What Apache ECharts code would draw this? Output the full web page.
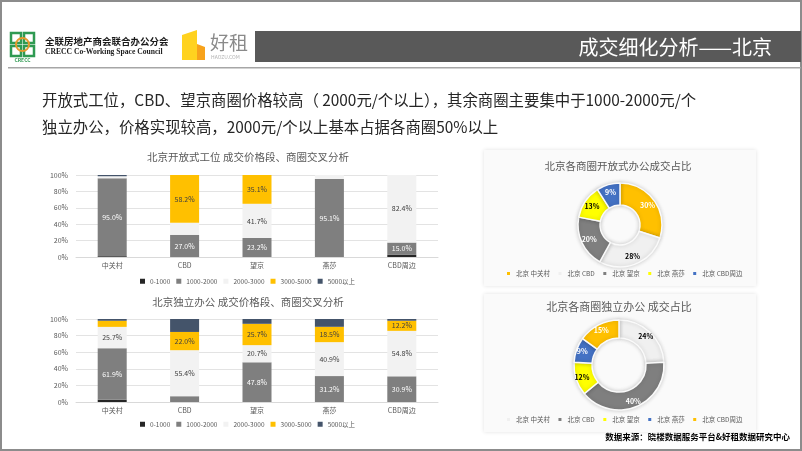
<!DOCTYPE html>
<html>
<head>
<meta charset="utf-8">
<script src="https://cdn.jsdelivr.net/npm/echarts@6/dist/echarts.min.js"></script>
<style>
html,body{margin:0;padding:0;background:#fff;}
#c{width:802px;height:451px;}
</style>
</head>
<body>
<div id="c"></div>
<script>
// ---- data ----
var categories = ['中关村', 'CBD', '望京', '燕莎', 'CBD周边'];
var priceBands = ['0-1000', '1000-2000', '2000-3000', '3000-5000', '5000以上'];
// 开放式工位 (percent)
var open0to1000   = [1.0, 0, 0, 0, 2.6];
var open1000to2000 = [95.0, 27.0, 23.2, 95.1, 15.0];
var open2000to3000 = [2.5, 14.8, 41.7, 4.9, 82.4];
var open3000to5000 = [0, 58.2, 35.1, 0, 0];
var open5000plus  = [1.5, 0, 0, 0, 0];
// 独立办公 (percent)
var ind0to1000    = [2.9, 0, 0, 0, 0];
var ind1000to2000 = [61.9, 7.0, 47.8, 31.2, 30.9];
var ind2000to3000 = [25.7, 55.4, 20.7, 40.9, 54.8];
var ind3000to5000 = [7.4, 22.0, 25.7, 18.5, 12.2];
var ind5000plus   = [2.1, 15.6, 5.8, 9.4, 2.1];
// 商圈成交占比
var districtNames = ['北京 中关村', '北京 CBD', '北京 望京', '北京 燕莎', '北京 CBD周边'];
var openShare = [30, 28, 20, 13, 9];
var indShare  = [24, 40, 12, 9, 15];
var yTicks = [0, 20, 40, 60, 80, 100];

// ---- styles ----
var FONT = '"Noto Sans CJK SC", "Noto Sans", sans-serif';
var bandColors = ['#262626', '#7f7f7f', '#f2f2f2', '#ffc000', '#44546a'];
var bandLabelColors = ['#fff', '#fff', '#404040', '#404040', '#fff'];
// minimum value for a segment label to be shown, per price band (Infinity = never)
var bandLabelMin = [10, 10, 20, 10, Infinity];
var openPieColors = ['#ffc000', '#f0f0f0', '#7f7f7f', '#ffff00', '#4472c4'];
var openPieLabel  = ['#fff', '#000', '#fff', '#000', '#fff'];
var indPieColors  = ['#f0f0f0', '#7f7f7f', '#ffff00', '#4472c4', '#ffc000'];
var indPieLabel   = ['#000', '#fff', '#000', '#fff', '#fff'];

var openSets = [open0to1000, open1000to2000, open2000to3000, open3000to5000, open5000plus];
var indSets = [ind0to1000, ind1000to2000, ind2000to3000, ind3000to5000, ind5000plus];

function barSeries(sets, idx, stack) {
  return sets.map(function (vals, i) {
    return {
      type: 'bar', name: priceBands[i], stack: stack,
      xAxisIndex: idx, yAxisIndex: idx,
      barWidth: 29,
      data: vals,
      itemStyle: { color: bandColors[i] },
      label: {
        show: true, position: 'inside', fontSize: 7, color: bandLabelColors[i], fontFamily: FONT,
        formatter: function (p) { return p.value >= bandLabelMin[i] ? p.value.toFixed(1) + '%' : ''; }
      }
    };
  });
}

function pieData(vals, colors, labelColors) {
  return vals.map(function (v, i) {
    return { name: districtNames[i], value: v,
      itemStyle: { color: colors[i] },
      label: { color: labelColors[i] } };
  });
}

function xAxisCfg(idx) {
  return {
    type: 'category', gridIndex: idx, data: categories,
    axisLine: { lineStyle: { color: '#d9d9d9' } },
    axisTick: { show: false },
    axisLabel: { fontSize: 7, color: '#595959', margin: 5, fontFamily: FONT }
  };
}
function yAxisCfg(idx) {
  return {
    type: 'value', gridIndex: idx, min: yTicks[0], max: yTicks[yTicks.length - 1], interval: yTicks[1] - yTicks[0],
    axisLine: { show: false }, axisTick: { show: false },
    splitLine: { lineStyle: { color: '#e3e3e3' } },
    axisLabel: { fontSize: 7, color: '#595959', margin: 8, formatter: '{value}%', fontFamily: FONT }
  };
}
function barLegend(top) {
  return {
    left: 140, top: top, padding: 0, itemWidth: 5, itemHeight: 5, itemGap: 6, icon: 'rect',
    data: priceBands,
    textStyle: { fontSize: 6.5, color: '#595959', fontFamily: FONT }
  };
}
function pieLegend(top, colors) {
  return {
    left: 505, top: top, padding: 0, itemWidth: 5, itemHeight: 5, itemGap: 6.5, icon: 'rect',
    data: districtNames.map(function (n, i) { return { name: n, itemStyle: { color: colors[i] } }; }),
    textStyle: { fontSize: 6.5, color: '#595959', fontFamily: FONT }
  };
}
function pieSeries(center, radius, data) {
  return {
    type: 'pie', center: center, radius: radius, startAngle: 90, clockwise: true,
    data: data, avoidLabelOverlap: false,
    itemStyle: { borderColor: '#fafafa', borderWidth: 1.5, shadowBlur: 4, shadowColor: 'rgba(0,0,0,0.18)' },
    label: { show: true, position: 'inside', formatter: '{c}%', fontSize: 7, fontWeight: 'bold', fontFamily: FONT },
    labelLine: { show: false },
    emphasis: { disabled: true }
  };
}

var chart = echarts.init(document.getElementById('c'), null, { renderer: 'canvas' });

var graphics = [
  // slide border
  { type: 'rect', shape: { x: 1, y: 1, width: 800, height: 449 }, style: { fill: 'none', stroke: '#8c8c8c', lineWidth: 2 } },
  // header band
  { type: 'rect', shape: { x: 255, y: 31, width: 546, height: 31 }, style: { fill: '#595959' } },
  { type: 'text', x: 772, y: 47, style: { text: '成交细化分析——北京', fill: '#fff', font: '20px ' + FONT, textAlign: 'right', textVerticalAlign: 'middle' } },
  { type: 'rect', shape: { x: 8, y: 67, width: 793, height: 1.5 }, style: { fill: '#a6a6a6' } },
  // CRECC logo
  { type: 'rect', shape: { x: 11, y: 33, width: 10, height: 10 }, style: { fill: 'none', stroke: '#2f9a52', lineWidth: 2.5 } },
  { type: 'rect', shape: { x: 24, y: 33, width: 10, height: 10 }, style: { fill: 'none', stroke: '#2f9a52', lineWidth: 2.5 } },
  { type: 'rect', shape: { x: 11, y: 46, width: 10, height: 10 }, style: { fill: 'none', stroke: '#2f9a52', lineWidth: 2.5 } },
  { type: 'rect', shape: { x: 24, y: 46, width: 10, height: 10 }, style: { fill: 'none', stroke: '#2f9a52', lineWidth: 2.5 } },
  { type: 'circle', shape: { cx: 22.5, cy: 44.5, r: 6.5 }, style: { fill: 'none', stroke: '#e59b2f', lineWidth: 2 } },
  { type: 'text', x: 22.5, y: 60, style: { text: 'CRECC', fill: '#2f9a52', font: 'bold 5px ' + FONT, textAlign: 'center', textVerticalAlign: 'middle' } },
  { type: 'text', x: 45, y: 41, style: { text: '全联房地产商会联合办公分会', fill: '#1a1a1a', font: 'bold 9.5px ' + FONT, textVerticalAlign: 'middle' } },
  { type: 'text', x: 45, y: 52.5, style: { text: 'CRECC Co-Working Space Council', fill: '#1a1a1a', font: 'bold 7.6px "Liberation Serif", "DejaVu Serif", serif', textVerticalAlign: 'middle' } },
  // haozu logo
  { type: 'polygon', shape: { points: [[182, 35], [197, 30], [197, 60], [182, 60]] }, style: { fill: '#ffd21f' } },
  { type: 'polygon', shape: { points: [[197, 44], [205, 47], [205, 60], [197, 60]] }, style: { fill: '#f7a21b' } },
  { type: 'text', x: 210, y: 43, style: { text: '好租', fill: '#8a8a8a', font: '19px ' + FONT, textVerticalAlign: 'middle' } },
  { type: 'text', x: 211, y: 57.5, style: { text: 'HAOZU.COM', fill: '#b0b0b0', font: '5px ' + FONT, textVerticalAlign: 'middle' } },
  // body text
  { type: 'text', x: 42, y: 100, style: { text: '开放式工位，CBD、望京商圈价格较高（ 2000元/个以上），其余商圈主要集中于1000-2000元/个', fill: '#262626', font: '15.4px ' + FONT, textVerticalAlign: 'middle' } },
  { type: 'text', x: 42, y: 127, style: { text: '独立办公，价格实现较高，2000元/个以上基本占据各商圈50%以上', fill: '#262626', font: '15.4px ' + FONT, textVerticalAlign: 'middle' } },
  // chart titles
  { type: 'text', x: 248, y: 157, style: { text: '北京开放式工位 成交价格段、商圈交叉分析', fill: '#595959', font: '10.5px ' + FONT, textAlign: 'center', textVerticalAlign: 'middle' } },
  { type: 'text', x: 248, y: 302, style: { text: '北京独立办公 成交价格段、商圈交叉分析', fill: '#595959', font: '10.5px ' + FONT, textAlign: 'center', textVerticalAlign: 'middle' } },
  // pie panels
  { type: 'rect', shape: { x: 484, y: 150, width: 272, height: 136 }, style: { fill: '#fafafa', shadowBlur: 4, shadowColor: 'rgba(0,0,0,0.12)' } },
  { type: 'rect', shape: { x: 484, y: 294, width: 272, height: 138 }, style: { fill: '#fafafa', shadowBlur: 4, shadowColor: 'rgba(0,0,0,0.12)' } },
  { type: 'text', x: 618, y: 166, z: 10, style: { text: '北京各商圈开放式办公成交占比', fill: '#595959', font: '10.5px ' + FONT, textAlign: 'center', textVerticalAlign: 'middle' } },
  { type: 'text', x: 619, y: 307, z: 10, style: { text: '北京各商圈独立办公 成交占比', fill: '#595959', font: '11px ' + FONT, textAlign: 'center', textVerticalAlign: 'middle' } },
  // source
  { type: 'text', x: 790, y: 437, z: 10, style: { text: '数据来源：晓楼数据服务平台&好租数据研究中心', fill: '#000', font: 'bold 8.5px ' + FONT, textAlign: 'right', textVerticalAlign: 'middle' } }
];

var option = {
  animation: false,
  textStyle: { fontFamily: FONT },
  graphic: graphics,
  grid: [
    { left: 76, top: 175, width: 362, height: 82 },
    { left: 76, top: 319, width: 362, height: 83 }
  ],
  xAxis: [xAxisCfg(0), xAxisCfg(1)],
  yAxis: [yAxisCfg(0), yAxisCfg(1)],
  legend: [
    barLegend(278),
    barLegend(421),
    pieLegend(270, openPieColors),
    pieLegend(416, indPieColors)
  ],
  series: [].concat(
    barSeries(openSets, 0, 'open'),
    barSeries(indSets, 1, 'ind'),
    [pieSeries([620, 225], [20, 42], pieData(openShare, openPieColors, openPieLabel)),
     pieSeries([619, 365], [27, 45], pieData(indShare, indPieColors, indPieLabel))]
  )
};
chart.setOption(option);
</script>
</body>
</html>
